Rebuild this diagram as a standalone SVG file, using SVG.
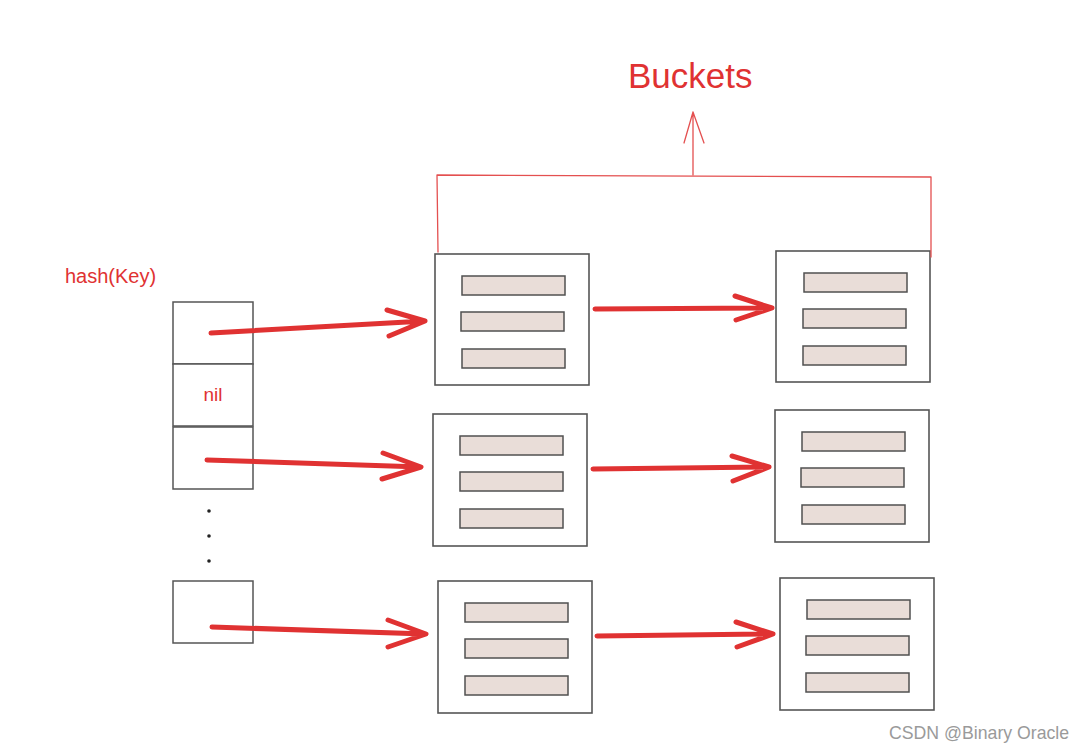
<svg xmlns="http://www.w3.org/2000/svg" width="1085" height="752" viewBox="0 0 1085 752">
<style>
.cell{fill:#fff;stroke:#555;stroke-width:1.5}
.box{fill:#fff;stroke:#555;stroke-width:1.6}
.item{fill:#e9ddd8;stroke:#505050;stroke-width:1.5}
.arr{fill:none;stroke:#e03232;stroke-width:5;stroke-linecap:round;stroke-linejoin:round}
.thin{fill:none;stroke:#e45050;stroke-width:1.3;stroke-linecap:round;stroke-linejoin:round}
.red{fill:#e03232;font-family:"Liberation Sans",Arial,sans-serif}
</style>
<rect width="1085" height="752" fill="#fff"/>
<g id="title">
<text class="red" x="628" y="88" font-size="35">Buckets</text>
</g>
<g id="hash-label">
<text class="red" x="65" y="283" font-size="20">hash(Key)</text>
</g>
<g id="hash-table">
<rect class="cell" x="173" y="302" width="80" height="62"/>
<rect class="cell" x="173" y="364" width="80" height="62"/>
<text class="red" x="213" y="401" font-size="19" text-anchor="middle">nil</text>
<rect class="cell" x="173" y="427" width="80" height="62"/>
<circle cx="209" cy="511" r="1.8" fill="#222"/>
<circle cx="209" cy="536" r="1.8" fill="#222"/>
<circle cx="209" cy="561" r="1.8" fill="#222"/>
<rect class="cell" x="173" y="581" width="80" height="62"/>
</g>
<g id="bucket-1-1">
<rect class="box" x="435" y="254" width="154" height="131"/>
<rect class="item" x="462" y="276" width="103" height="19"/>
<rect class="item" x="461" y="312" width="103" height="19"/>
<rect class="item" x="462" y="349" width="103" height="19"/>
</g>
<g id="bucket-1-2">
<rect class="box" x="776" y="251" width="154" height="131"/>
<rect class="item" x="804" y="273" width="103" height="19"/>
<rect class="item" x="803" y="309" width="103" height="19"/>
<rect class="item" x="803" y="346" width="103" height="19"/>
</g>
<g id="bucket-2-1">
<rect class="box" x="433" y="414" width="154" height="132"/>
<rect class="item" x="460" y="436" width="103" height="19"/>
<rect class="item" x="460" y="472" width="103" height="19"/>
<rect class="item" x="460" y="509" width="103" height="19"/>
</g>
<g id="bucket-2-2">
<rect class="box" x="775" y="410" width="154" height="132"/>
<rect class="item" x="802" y="432" width="103" height="19"/>
<rect class="item" x="801" y="468" width="103" height="19"/>
<rect class="item" x="802" y="505" width="103" height="19"/>
</g>
<g id="bucket-3-1">
<rect class="box" x="438" y="581" width="154" height="132"/>
<rect class="item" x="465" y="603" width="103" height="19"/>
<rect class="item" x="465" y="639" width="103" height="19"/>
<rect class="item" x="465" y="676" width="103" height="19"/>
</g>
<g id="bucket-3-2">
<rect class="box" x="780" y="578" width="154" height="132"/>
<rect class="item" x="807" y="600" width="103" height="19"/>
<rect class="item" x="806" y="636" width="103" height="19"/>
<rect class="item" x="806" y="673" width="103" height="19"/>
</g>
<g id="connectors">
<path class="thin" d="M438 252 L437 175 L931 177 L931 257"/>
<path class="thin" d="M693 175 L693 112 M684 143 L693 112 L704 143"/>
<path class="arr" d="M211 333 L425 321 M387 310 L425 321 L389 336"/>
<path class="arr" d="M207 460 L421 467 M383 453 L421 467 L382 479"/>
<path class="arr" d="M212 627 L426 634 M388 620 L426 634 L388 647"/>
<path class="arr" d="M595 309 L772 308 M735 296 L772 308 L736 320"/>
<path class="arr" d="M593 469 L769 467 M732 456 L769 467 L733 481"/>
<path class="arr" d="M597 636 L773 634 M736 622 L773 634 L737 647"/>
</g>
<g id="watermark">
<text x="889" y="739" font-size="17.7" fill="#9a9a9a" font-family="'Liberation Sans',Arial,sans-serif">CSDN @Binary Oracle</text>
</g>
</svg>
